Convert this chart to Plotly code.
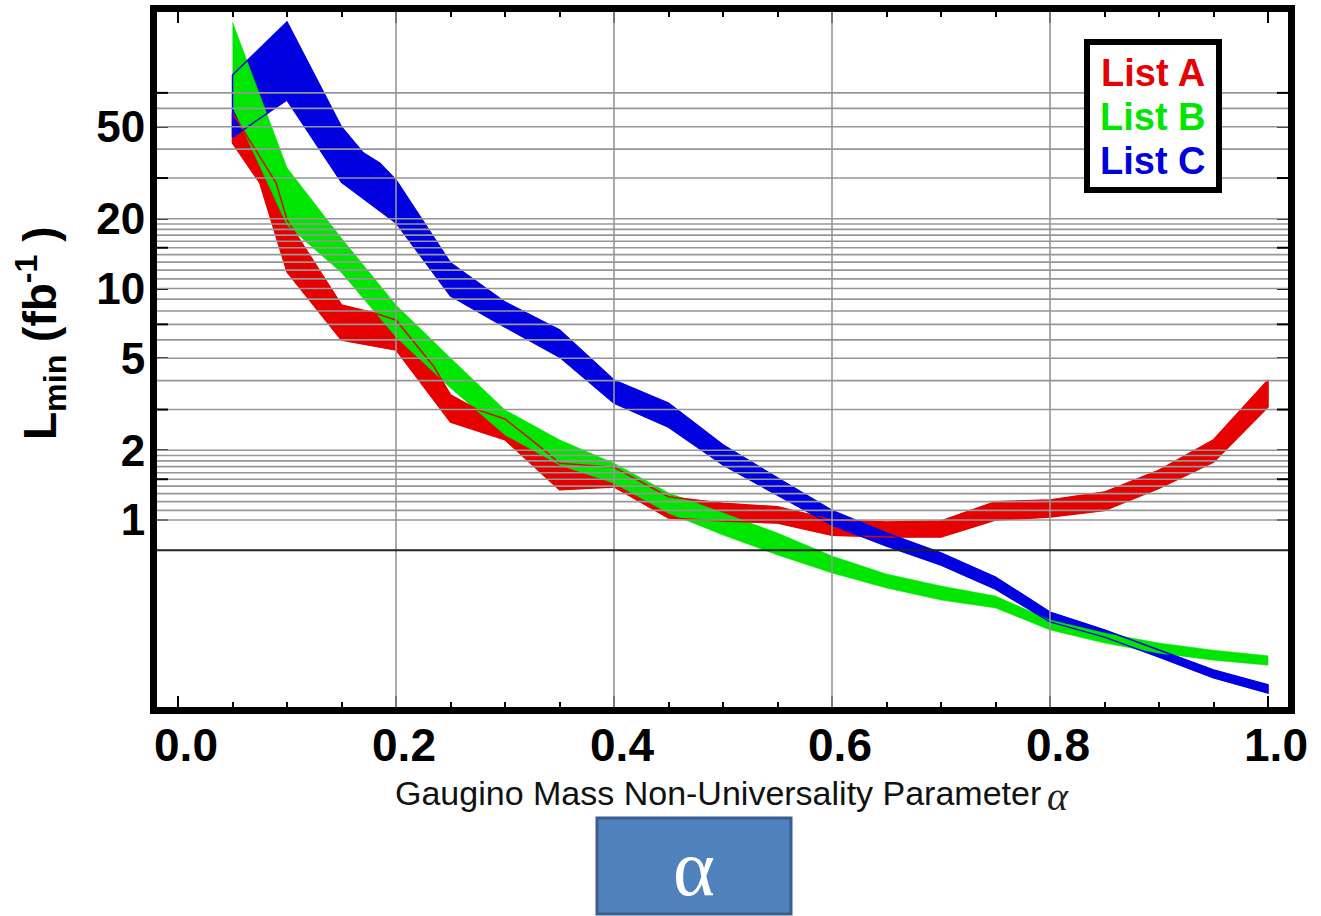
import plotly.graph_objects as go

# ---------------------------------------------------------------------------
# Data: minimum luminosity bands (fb^-1) versus gaugino non-universality alpha
# ---------------------------------------------------------------------------
series_names = ["List A", "List B", "List C"]
series_colors = ["#e60000", "#00e600", "#0000e0"]

# List A
a_upper_alpha = [0.05, 0.09, 0.10, 0.15, 0.18, 0.20, 0.235, 0.25, 0.275, 0.30, 0.33, 0.35,
                 0.40, 0.45, 0.50, 0.55, 0.60, 0.65, 0.70, 0.75, 0.80, 0.85, 0.90, 0.95, 1.00]
a_upper = [57.3, 28.6, 19.8, 8.49, 7.84, 7.31, 4.58, 3.47, 2.99, 2.73, 2.11, 1.76,
           1.69, 1.26, 1.18, 1.14, 1.00, 0.98, 0.99, 1.20, 1.22, 1.32, 1.64, 2.22, 4.02]
a_lower_alpha = [0.05, 0.075, 0.10, 0.15, 0.20, 0.25, 0.30, 0.35, 0.40, 0.45, 0.50,
                 0.55, 0.60, 0.65, 0.70, 0.75, 0.80, 0.85, 0.90, 0.95, 1.00]
a_lower = [42.5, 28.6, 11.8, 5.99, 5.43, 2.65, 2.22, 1.35, 1.39, 1.02, 0.99,
           0.97, 0.86, 0.845, 0.845, 1.00, 1.03, 1.10, 1.37, 1.78, 3.08]

# List B
b_alpha = [0.05, 0.10, 0.15, 0.20, 0.25, 0.30, 0.35, 0.40, 0.45, 0.50,
           0.55, 0.60, 0.65, 0.70, 0.75, 0.80, 0.85, 0.90, 0.95, 1.00]
b_upper = [141.6, 33.2, 16.5, 8.49, 5.01, 2.99, 2.22, 1.76, 1.31, 1.07,
           0.879, 0.699, 0.584, 0.519, 0.469, 0.370, 0.325, 0.294, 0.274, 0.259]
b_lower = [60.8, 18.8, 11.7, 6.17, 3.72, 2.33, 1.73, 1.44, 1.07, 0.861,
           0.706, 0.590, 0.508, 0.451, 0.417, 0.335, 0.294, 0.266, 0.248, 0.236]

# List C
c_upper_alpha = [0.05, 0.10, 0.15, 0.17, 0.185, 0.20, 0.25, 0.30, 0.35, 0.40, 0.45,
                 0.50, 0.55, 0.60, 0.65, 0.70, 0.75, 0.80, 0.85, 0.90, 0.95, 1.00]
c_upper = [83.6, 141.6, 49.8, 38.5, 34.8, 29.4, 12.9, 8.74, 6.62, 4.02, 3.20,
           2.11, 1.52, 1.10, 0.879, 0.720, 0.567, 0.400, 0.335, 0.274, 0.225, 0.194]
c_lower_alpha = [0.05, 0.10, 0.15, 0.20, 0.25, 0.30, 0.35, 0.40, 0.45, 0.50,
                 0.55, 0.60, 0.65, 0.70, 0.75, 0.80, 0.85, 0.90, 0.95, 1.00]
c_lower = [45.1, 65.2, 28.8, 19.2, 9.28, 6.82, 5.06, 3.20, 2.52, 1.73,
           1.28, 0.951, 0.772, 0.639, 0.503, 0.363, 0.312, 0.256, 0.208, 0.179]

# Axis ticks and grid
x_tick_vals = [0.0, 0.2, 0.4, 0.6, 0.8, 1.0]
x_tick_text = ["0.0", "0.2", "0.4", "0.6", "0.8", "1.0"]
x_grid_vals = [0.2, 0.4, 0.6, 0.8]
y_tick_vals = [50, 20, 10, 5, 2, 1]
y_tick_text = ["50", "20", "10", "5", "2", "1"]
y_extra_ticks = [70, 30, 15, 7, 3, 1.5]
y_grid_vals = ([1.0, 1.1, 1.2, 1.3, 1.4, 1.5, 1.6, 1.7, 1.8, 1.9]
               + [2, 3, 4, 5, 6, 7, 8, 9, 10, 11, 12, 13, 14, 15, 16, 17, 18, 19, 20]
               + [30, 40, 50, 60, 70])
reference_level = 0.74

x_title = "Gaugino Mass Non-Universality Parameter"
y_title = "L<sub>min</sub> (fb<sup>-1</sup> )"
box_symbol = "α"

# ---------------------------------------------------------------------------
W, H = 1321, 916
ML, MR, MT, MB = 157, 33, 12, 209
PW, PH = W - ML - MR, H - MT - MB


def px_x(p):
    return (p - ML) / PW


def px_y(p):
    return (H - MB - p) / PH


bands = [
    (a_upper_alpha, a_upper, a_lower_alpha, a_lower),
    (b_alpha, b_upper, b_alpha, b_lower),
    (c_upper_alpha, c_upper, c_lower_alpha, c_lower),
]

fig = go.Figure()

# filled bands: A underneath, then C, with B on top
for idx in (0, 2, 1):
    ux, uy, lx, ly = bands[idx]
    fig.add_trace(go.Scatter(
        x=list(ux) + list(lx)[::-1], y=list(uy) + list(ly)[::-1],
        fill="toself", fillcolor=series_colors[idx], mode="lines",
        line=dict(color=series_colors[idx], width=0.5),
        name=series_names[idx], showlegend=False, hoverinfo="skip"))

# thin outlines of the bands drawn over all fills
for idx in (0, 2):
    ux, uy, lx, ly = bands[idx]
    fig.add_trace(go.Scatter(
        x=list(ux) + list(lx)[::-1] + [ux[0]], y=list(uy) + list(ly)[::-1] + [uy[0]],
        mode="lines", line=dict(color=series_colors[idx], width=1.5),
        showlegend=False, hoverinfo="skip"))

shapes = []
grid_color = "#969696"
for v in y_grid_vals:
    shapes.append(dict(type="line", xref="paper", yref="y", x0=0, x1=1, y0=v, y1=v,
                       line=dict(color=grid_color, width=1.6), layer="above"))
for v in x_grid_vals:
    shapes.append(dict(type="line", xref="x", yref="paper", x0=v, x1=v, y0=0, y1=1,
                       line=dict(color=grid_color, width=1.6), layer="above"))
shapes.append(dict(type="line", xref="paper", yref="y", x0=0, x1=1,
                   y0=reference_level, y1=reference_level,
                   line=dict(color="#222222", width=2), layer="above"))
# unlabelled tick marks on both vertical frame sides
for v in y_extra_ticks:
    for x0, x1 in ((0, 11 / PW), (1 - 11 / PW, 1)):
        shapes.append(dict(type="line", xref="paper", yref="y", x0=x0, x1=x1, y0=v, y1=v,
                           line=dict(color="black", width=2), layer="above"))

# legend frame
shapes.append(dict(type="rect", xref="paper", yref="paper",
                   x0=px_x(1087), x1=px_x(1219), y0=px_y(190), y1=px_y(42),
                   line=dict(color="black", width=6), fillcolor="white", layer="above"))
# symbol box under the axis title
shapes.append(dict(type="rect", xref="paper", yref="paper",
                   x0=px_x(597), x1=px_x(791), y0=px_y(914), y1=px_y(818),
                   line=dict(color="#3a5f8b", width=3), fillcolor="#4f81bd", layer="above"))

annotations = []
for i, (name, col) in enumerate(zip(series_names, series_colors)):
    annotations.append(dict(xref="paper", yref="paper", x=px_x(1153), y=px_y(73 + 44 * i),
                            text=name, showarrow=False, xanchor="center", yanchor="middle",
                            font=dict(family="Liberation Sans, Arial", size=38,
                                      color=col, weight=700)))
annotations.append(dict(xref="paper", yref="paper", x=px_x(40), y=px_y(333),
                        text=y_title, textangle=-90, showarrow=False,
                        xanchor="center", yanchor="middle",
                        font=dict(family="Liberation Sans, Arial", size=46,
                                  color="black", weight=700)))
annotations.append(dict(xref="paper", yref="paper", x=px_x(718), y=px_y(793),
                        text=x_title, showarrow=False, xanchor="center", yanchor="middle",
                        font=dict(family="Liberation Sans Narrow, Liberation Sans, Arial",
                                  size=34, color="#111111")))
annotations.append(dict(xref="paper", yref="paper", x=px_x(1058), y=px_y(796),
                        text="<i>" + box_symbol + "</i>", showarrow=False,
                        xanchor="center", yanchor="middle",
                        font=dict(family="Liberation Serif, Times New Roman", size=40,
                                  color="#222222")))
annotations.append(dict(xref="paper", yref="paper", x=px_x(694), y=px_y(868),
                        text=box_symbol, showarrow=False, xanchor="center", yanchor="middle",
                        font=dict(family="Liberation Serif, Times New Roman", size=80,
                                  color="white")))

fig.update_layout(
    width=W, height=H,
    margin=dict(l=ML, r=MR, t=MT, b=MB, autoexpand=False),
    paper_bgcolor="white", plot_bgcolor="white",
    showlegend=False,
    shapes=shapes, annotations=annotations,
    xaxis=dict(range=[(ML - 178) / 1090, (W - MR - 178) / 1090],
               tickvals=x_tick_vals, ticktext=x_tick_text,
               ticks="inside", ticklen=11, tickwidth=2, tickcolor="black",
               minor=dict(dtick=0.05, tick0=0, ticks="inside", ticklen=5,
                          tickwidth=2, tickcolor="black", showgrid=False),
               showgrid=False, zeroline=False, automargin=False,
               ticklabelstandoff=-8, ticklabelshift=8,
               showline=True, linecolor="black", linewidth=7, mirror="ticks",
               tickfont=dict(family="Liberation Sans, Arial", size=46,
                             color="black", weight=700)),
    yaxis=dict(type="log", range=[(520 - (H - MB)) / 231.5, (520 - MT) / 231.5],
               tickvals=y_tick_vals, ticktext=y_tick_text,
               ticks="inside", ticklen=11, tickwidth=2, tickcolor="black",
               showgrid=False, zeroline=False, automargin=False,
               ticklabelstandoff=-4,
               showline=True, linecolor="black", linewidth=7, mirror="ticks",
               tickfont=dict(family="Liberation Sans, Arial", size=44,
                             color="black", weight=700)),
)

fig.write_html("out.html")
